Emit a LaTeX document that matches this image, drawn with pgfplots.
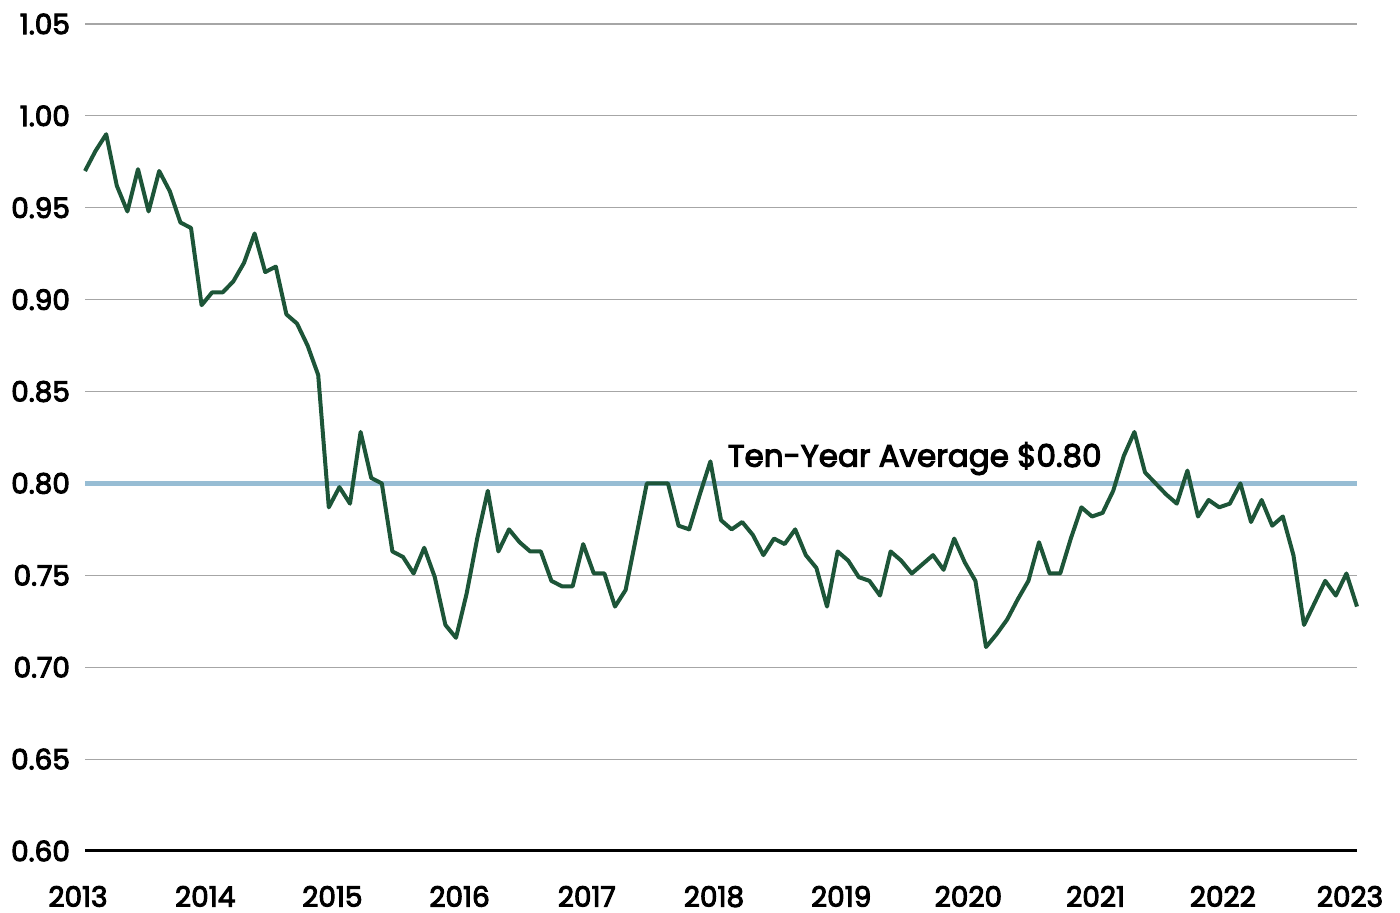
\documentclass[border=0pt]{standalone}
\usepackage{pgfplots}
\pgfplotsset{compat=1.18}
\usepackage{fontspec}
\setmainfont{Poppins}[FakeBold=3.5]
\definecolor{lgreen}{HTML}{1D5538}
\definecolor{avgblue}{HTML}{97BDD4}
\definecolor{gridgray}{HTML}{A6A6A6}
\begin{document}
\begin{tikzpicture}
\useasboundingbox (-42.5pt,-31pt) rectangle (657.5pt,425.5pt);
\begin{axis}[
  at={(0,0)}, anchor=south west,
  scale only axis, width=636pt, height=413.5pt,
  xmin=0, xmax=120, ymin=0.6, ymax=1.05,
  axis x line*=bottom, axis y line*=left,
  x axis line style={black, line width=1.5pt, -},
  y axis line style={draw=none},
  xtick={0,12,...,120},
  xticklabels={2013,2014,2015,2016,2017,2018,2019,2020,2021,2022,2023},
  ytick={0.65,0.7,...,1.06},
  extra y ticks={0.6},
  extra y tick style={grid=none},
  ymajorgrids, grid style={gridgray, line width=0.6pt},
  major tick length=0pt,
  tick label style={font=\fontsize{14}{16}\selectfont, text=black},
  xticklabel style={yshift=-14pt, xshift=-3.5pt},
  yticklabel style={xshift=-4pt},
  yticklabel={\pgfmathprintnumber[fixed, fixed zerofill, precision=2, assume math mode=true]{\tick}},
  /pgf/number format/assume math mode=true,
  clip=false,
]
\addplot[avgblue, line width=2.5pt, forget plot] coordinates {(0,0.8) (120,0.8)};
\addplot[lgreen, line width=2pt, line join=round] table {
0 0.970
1 0.981
2 0.990
3 0.962
4 0.948
5 0.971
6 0.948
7 0.970
8 0.959
9 0.942
10 0.939
11 0.897
12 0.904
13 0.904
14 0.910
15 0.920
16 0.936
17 0.915
18 0.918
19 0.892
20 0.887
21 0.875
22 0.859
23 0.787
24 0.798
25 0.789
26 0.828
27 0.803
28 0.800
29 0.763
30 0.760
31 0.751
32 0.765
33 0.749
34 0.723
35 0.716
36 0.740
37 0.770
38 0.796
39 0.763
40 0.775
41 0.768
42 0.763
43 0.763
44 0.747
45 0.744
46 0.744
47 0.767
48 0.751
49 0.751
50 0.733
51 0.742
52 0.771
53 0.800
54 0.800
55 0.800
56 0.777
57 0.775
58 0.794
59 0.812
60 0.780
61 0.775
62 0.779
63 0.772
64 0.761
65 0.770
66 0.767
67 0.775
68 0.761
69 0.754
70 0.733
71 0.763
72 0.758
73 0.749
74 0.747
75 0.739
76 0.763
77 0.758
78 0.751
79 0.756
80 0.761
81 0.753
82 0.770
83 0.757
84 0.747
85 0.711
86 0.718
87 0.726
88 0.737
89 0.747
90 0.768
91 0.751
92 0.751
93 0.770
94 0.787
95 0.782
96 0.784
97 0.796
98 0.815
99 0.828
100 0.806
101 0.800
102 0.794
103 0.789
104 0.807
105 0.782
106 0.791
107 0.787
108 0.789
109 0.800
110 0.779
111 0.791
112 0.777
113 0.782
114 0.761
115 0.723
116 0.735
117 0.747
118 0.739
119 0.751
120 0.733
};
\node[anchor=west, inner sep=0pt, font=\fontsize{15.5}{18}\selectfont] at (axis cs:60.6,0.8135) {Ten-Year Average \$0.80};
\end{axis}
\end{tikzpicture}
\end{document}
